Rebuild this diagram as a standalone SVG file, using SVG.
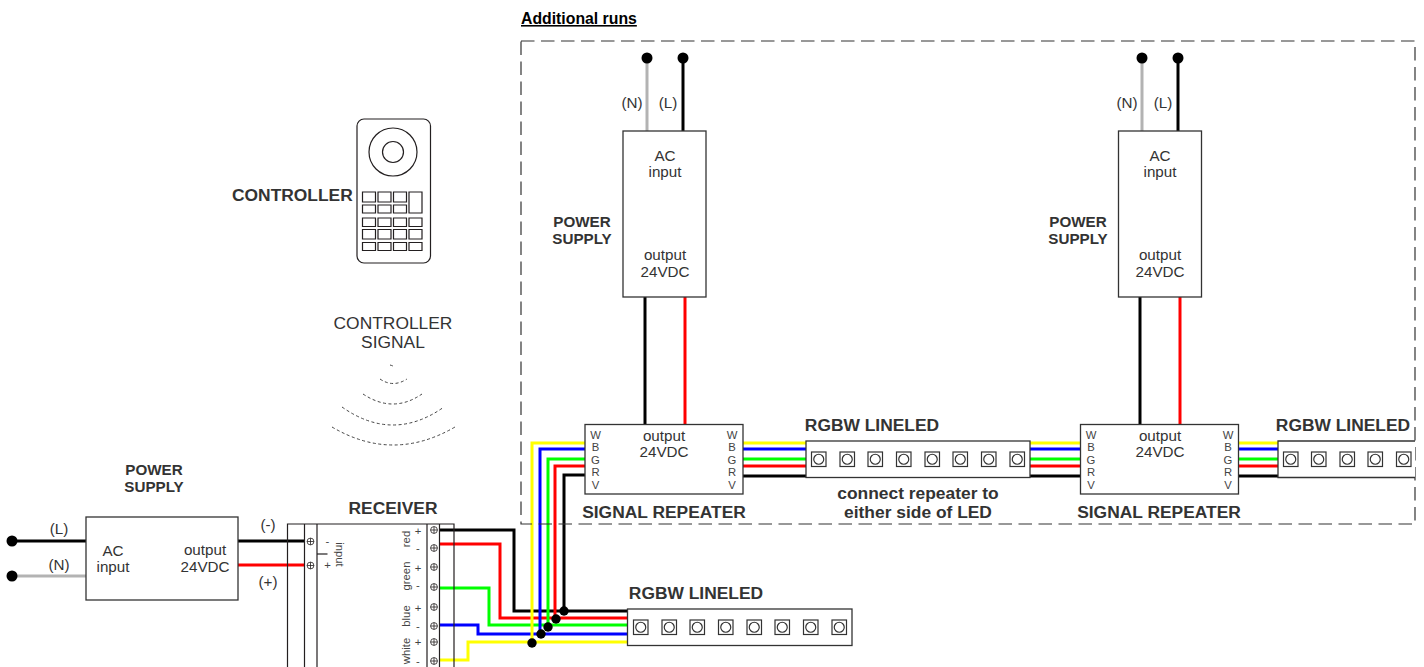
<svg xmlns="http://www.w3.org/2000/svg" width="1424" height="667" viewBox="0 0 1424 667">
<style>
text{font-family:"Liberation Sans",Arial,sans-serif;fill:#333;font-size:15.2px}
.m{text-anchor:middle}
.b{font-weight:bold;font-size:17.400px}
.s{font-weight:bold;font-size:15.200px}
.c{font-size:17.400px}
.t{font-size:11.300px;fill:#444}
.box{fill:#fff;stroke:#333;stroke-width:1.3}
.thin{fill:none;stroke:#231f20;stroke-width:1.2}
.w{fill:none;stroke-width:3}
.k{stroke:#000}.r{stroke:#f00}.g{stroke:#0f0}.u{stroke:#00f}.y{stroke:#ff0}.a{stroke:#b3b3b3}
.d{fill:#000}
.arc{fill:none;stroke:#444;stroke-width:1;stroke-dasharray:3 2.5}
.led{fill:#fff;stroke:#333;stroke-width:1.2}
.sc{fill:none;stroke:#231f20;stroke-width:.8}
</style>
<defs>
<g id="chip"><rect class="led" x="0" y="0" width="14.5" height="14.5"/><circle class="led" cx="7.25" cy="7.25" r="5"/></g>
<g id="screw"><circle class="sc" cx="0" cy="0" r="3.4"/><path class="sc" d="M-3.4 0H3.4M0-3.4V3.4"/></g>
</defs>

<g id="connectors">
<path class="w k" d="M12 541H86"/>
<path class="w a" d="M12 576H86"/>
<path class="w k" d="M238 541H304"/>
<path class="w r" d="M238 565H304"/>
<path class="w k" d="M440 530H514V611H628"/>
<path class="w r" d="M440 544H500V618H628"/>
<path class="w g" d="M440 588H489V625H628"/>
<path class="w u" d="M440 625H478V634H628"/>
<path class="w y" d="M440 660H468V642H628"/>
<path class="w y" d="M585 443H532V643"/>
<path class="w u" d="M585 449H540V634"/>
<path class="w g" d="M585 459H548V627"/>
<path class="w r" d="M585 466H555V619"/>
<path class="w k" d="M585 475H564V611"/>
<path class="w y" d="M743 443H806"/><path class="w u" d="M743 449H806"/><path class="w g" d="M743 459H806"/><path class="w r" d="M743 466H806"/><path class="w k" d="M743 476H806"/>
<path class="w y" d="M1030 443H1080"/><path class="w u" d="M1030 449H1080"/><path class="w g" d="M1030 459H1080"/><path class="w r" d="M1030 466H1080"/><path class="w k" d="M1030 476H1080"/>
<path class="w y" d="M1239 443H1278"/><path class="w u" d="M1239 449H1278"/><path class="w g" d="M1239 459H1278"/><path class="w r" d="M1239 466H1278"/><path class="w k" d="M1239 476H1278"/>
<path class="w a" d="M647 58V131"/><path class="w k" d="M683 58V131"/>
<path class="w k" d="M645 297V424"/><path class="w r" d="M685 297V424"/>
<path class="w a" d="M1142 58V131"/><path class="w k" d="M1178 58V131"/>
<path class="w k" d="M1140 297V425"/><path class="w r" d="M1180 297V425"/>
<g class="d">
<circle cx="12" cy="541" r="5.500"/><circle cx="12" cy="576" r="5.500"/>
<circle cx="647" cy="58" r="5.500"/><circle cx="683" cy="58" r="5.500"/>
<circle cx="1142" cy="58" r="5.500"/><circle cx="1178" cy="58" r="5.500"/>
<circle cx="564" cy="611" r="4.700"/><circle cx="556" cy="619" r="4.700"/><circle cx="548" cy="627" r="4.700"/><circle cx="541" cy="634" r="4.700"/><circle cx="532" cy="643" r="4.700"/>
</g>
</g>

<g id="additional-runs">
<rect x="521" y="41" width="894" height="483" fill="none" stroke="#333" stroke-width="1.2" stroke-dasharray="13.500 6.500"/>
<text x="521" y="24" font-weight="bold" style="font-size:15.800px;text-decoration:underline;fill:#000">Additional runs</text>
</g>

<g id="controller">
<rect x="357" y="119" width="73.500" height="144" rx="7" class="thin"/>
<circle cx="393" cy="152" r="24" class="thin"/><circle cx="393" cy="152" r="10.500" class="thin"/>
<path class="thin" d="M362.500 192h13v10h-13zM378 192h13v10h-13zM393.500 192h13v10h-13zM409 192h13v21h-13zM362.500 205h13v8h-13zM378 205h13v8h-13zM393.500 205h13v8h-13zM362.500 218h13v8.500h-13zM378 218h13v8.500h-13zM393.500 218h13v8.500h-13zM409 218h13v8.500h-13zM362.500 229.500h13v9.500h-13zM378 229.500h13v9.500h-13zM393.500 229.500h13v9.500h-13zM409 229.500h13v9.500h-13zM362.500 242.500h13v8h-13zM378 242.500h13v8h-13zM393.500 242.500h13v8h-13zM409 242.500h13v8h-13z"/>
<text class="b" x="232" y="201">CONTROLLER</text>
</g>

<g id="controller-signal">
<text class="m c" x="393" y="329">CONTROLLER</text>
<text class="m c" x="393" y="348">SIGNAL</text>
<path class="arc" d="M390 365Q392 365.500 394 366.500"/>
<path class="arc" d="M380 379Q393 388 407 379"/>
<path class="arc" d="M363 394Q393 414 422 394"/>
<path class="arc" d="M342 407Q393 443 444 407"/>
<path class="arc" d="M332 427Q393 463 455 427"/>
</g>

<g id="power-supply-main">
<rect class="box" x="86" y="517" width="152" height="83"/>
<text class="s m" x="154" y="475">POWER</text><text class="s m" x="154" y="492">SUPPLY</text>
<text class="m" x="113" y="556">AC</text><text class="m" x="113" y="572">input</text>
<text class="m" x="205" y="555">output</text><text class="m" x="205" y="572">24VDC</text>
<text class="m" x="59" y="534">(L)</text><text class="m" x="59" y="570">(N)</text>
<text class="m" x="268" y="530">(-)</text><text class="m" x="268" y="587">(+)</text>
</g>

<g id="receiver">
<path class="thin" d="M287.500 667V524H454V667"/>
<path class="thin" d="M304.500 524V667M317 524V667M427 524V667M439.500 524V667" />
<path class="thin" d="M317 554H327.500"/>
<use href="#screw" x="310.500" y="541.500"/><use href="#screw" x="310.500" y="565.500"/>
<use href="#screw" x="434" y="530"/><use href="#screw" x="434" y="548"/><use href="#screw" x="434" y="567"/><use href="#screw" x="434" y="587"/><use href="#screw" x="434" y="607"/><use href="#screw" x="434" y="626"/><use href="#screw" x="434" y="642"/><use href="#screw" x="434" y="661"/>
<text class="b m" x="393" y="514">RECEIVER</text>
<text class="t m" transform="translate(336 554.500) rotate(90)">input</text>
<text class="t m" x="327.500" y="545">-</text><text class="t m" x="327.500" y="569">+</text>
<text class="t m" transform="translate(410 539) rotate(-90)">red</text>
<text class="t m" transform="translate(410 576) rotate(-90)">green</text>
<text class="t m" transform="translate(410 616) rotate(-90)">blue</text>
<text class="t m" transform="translate(410 651) rotate(-90)">white</text>
<text class="t m" x="418" y="535">+</text><text class="t m" x="418" y="551.500">-</text>
<text class="t m" x="418" y="572">+</text><text class="t m" x="418" y="589">-</text>
<text class="t m" x="418" y="612">+</text><text class="t m" x="418" y="630">-</text>
<text class="t m" x="418" y="646">+</text><text class="t m" x="418" y="665">-</text>
</g>

<g id="led-main">
<rect class="box" x="627.500" y="609" width="224.500" height="36.500"/>
<text class="b m" x="696" y="599">RGBW LINELED</text>
<use href="#chip" x="633.500" y="620"/><use href="#chip" x="662" y="620"/><use href="#chip" x="690" y="620"/><use href="#chip" x="718.500" y="620"/><use href="#chip" x="747" y="620"/><use href="#chip" x="775" y="620"/><use href="#chip" x="803.500" y="620"/><use href="#chip" x="832" y="620"/>
</g>

<g id="power-supply-1">
<rect class="box" x="623" y="131" width="83" height="166"/>
<text class="m" x="665" y="161">AC</text><text class="m" x="665" y="177">input</text>
<text class="m" x="665" y="260">output</text><text class="m" x="665" y="277">24VDC</text>
<text class="s m" x="582" y="227">POWER</text><text class="s m" x="582" y="244">SUPPLY</text>
<text class="m" x="632" y="108">(N)</text><text class="m" x="668" y="108">(L)</text>
</g>

<g id="power-supply-2">
<rect class="box" x="1118.500" y="131" width="83" height="166"/>
<text class="m" x="1160" y="161">AC</text><text class="m" x="1160" y="177">input</text>
<text class="m" x="1160" y="260">output</text><text class="m" x="1160" y="277">24VDC</text>
<text class="s m" x="1078" y="227">POWER</text><text class="s m" x="1078" y="244">SUPPLY</text>
<text class="m" x="1127" y="108">(N)</text><text class="m" x="1163" y="108">(L)</text>
</g>

<g id="repeater-1">
<rect class="box" x="585" y="424.500" width="158" height="69.500"/>
<text class="m" x="664" y="441">output</text><text class="m" x="664" y="457">24VDC</text>
<text class="t m" x="595.500" y="439">W</text><text class="t m" x="595.500" y="451">B</text><text class="t m" x="595.500" y="464">G</text><text class="t m" x="595.500" y="476">R</text><text class="t m" x="595.500" y="489">V</text>
<text class="t m" x="732" y="439">W</text><text class="t m" x="732" y="451">B</text><text class="t m" x="732" y="464">G</text><text class="t m" x="732" y="476">R</text><text class="t m" x="732" y="489">V</text>
<text class="b m" x="664" y="518">SIGNAL REPEATER</text>
</g>

<g id="led-1">
<rect class="box" x="806" y="441" width="224" height="36.500"/>
<text class="b m" x="872" y="431">RGBW LINELED</text>
<use href="#chip" x="811.500" y="452"/><use href="#chip" x="840" y="452"/><use href="#chip" x="868" y="452"/><use href="#chip" x="896.500" y="452"/><use href="#chip" x="925" y="452"/><use href="#chip" x="953" y="452"/><use href="#chip" x="981.500" y="452"/><use href="#chip" x="1010" y="452"/>
<text class="b m" x="918" y="499">connect repeater to</text>
<text class="b m" x="918" y="518">either side of LED</text>
</g>

<g id="repeater-2">
<rect class="box" x="1080.500" y="424.500" width="158" height="69.500"/>
<text class="m" x="1160" y="441">output</text><text class="m" x="1160" y="457">24VDC</text>
<text class="t m" x="1091" y="439">W</text><text class="t m" x="1091" y="451">B</text><text class="t m" x="1091" y="464">G</text><text class="t m" x="1091" y="476">R</text><text class="t m" x="1091" y="489">V</text>
<text class="t m" x="1228" y="439">W</text><text class="t m" x="1228" y="451">B</text><text class="t m" x="1228" y="464">G</text><text class="t m" x="1228" y="476">R</text><text class="t m" x="1228" y="489">V</text>
<text class="b m" x="1159" y="518">SIGNAL REPEATER</text>
</g>

<g id="led-2">
<path class="box" d="M1415 441H1278V477.500H1415"/>
<text class="b m" x="1343" y="431">RGBW LINELED</text>
<use href="#chip" x="1283.500" y="452"/><use href="#chip" x="1311.500" y="452"/><use href="#chip" x="1340" y="452"/><use href="#chip" x="1368" y="452"/><use href="#chip" x="1396.500" y="452"/>
</g>
</svg>
